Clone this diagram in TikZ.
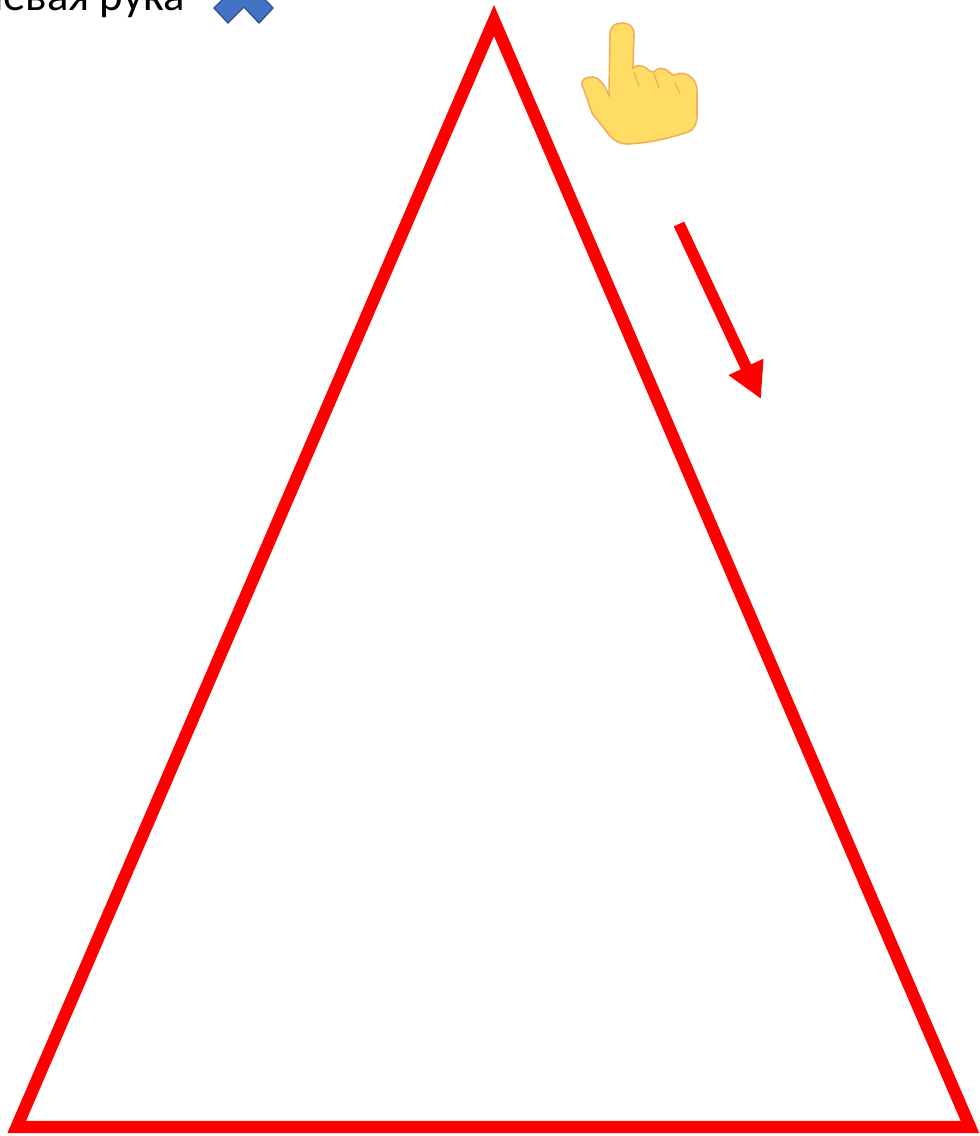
\documentclass[tikz,border=0pt]{standalone}
\usepackage{fontspec}
\setmainfont{Carlito}
\definecolor{trired}{RGB}{255, 0, 0}
\definecolor{chevblue}{RGB}{68, 114, 196}
\definecolor{chevedge}{RGB}{47, 82, 143}
\definecolor{handyellow}{RGB}{255, 220, 100}
\definecolor{handedge}{RGB}{240, 175, 95}
\usetikzlibrary{arrows.meta}

\begin{document}
\begin{tikzpicture}[x=0.75pt, y=-0.75pt,
    triline/.style={draw=trired, line width=9.2pt, miter limit=10, line join=miter},
    movearrow/.style={draw=trired, line width=8.6pt, -{Triangle[length=26.6pt, width=27pt]}},
    label/.style={inner sep=0pt, font=\fontsize{33.5}{33.5}\selectfont}]
  \useasboundingbox (0, 0) rectangle (979, 1136);

  % Left hand label and its mark
  \node[label, anchor=base east] (handlabel) at (185, 10) {Левая рука};
  \draw[fill=chevblue, draw=chevedge, line width=1pt] (214, 8) -- (244, -22) -- (273, 8) -- (259, 23) -- (244, 7) -- (228, 23) -- cycle;

  % Triangle
  \draw[triline] (494, 20.5) -- (970, 1127) -- (16.7, 1127) -- cycle;

  % Pointing hand
  \draw[fill=handyellow, draw=handedge, line width=1.2pt]
    (610, 35) .. controls (610, 26) and (615, 23) .. (622, 23)
    .. controls (629, 23) and (634, 26) .. (634, 35) -- (633, 68)
    .. controls (636, 65) and (642, 65) .. (646, 68) .. controls (650, 72) and (652, 72) .. (654, 72)
    .. controls (656, 68) and (664, 67) .. (668, 71) .. controls (671, 74) and (673, 75) .. (675, 75)
    .. controls (680, 72) and (688, 73) .. (692, 78) .. controls (696, 82) and (697, 86) .. (697, 92)
    -- (697, 115) .. controls (697, 124) and (694, 130) .. (688, 132)
    .. controls (670, 138) and (650, 143) .. (627, 144) .. controls (620, 144) and (615, 141) .. (610, 136)
    -- (592, 113) .. controls (589, 105) and (586, 95) .. (582, 85)
    .. controls (581, 79) and (586, 77) .. (593, 77) .. controls (600, 78) and (605, 86) .. (609, 95) -- cycle;
  \draw[handedge, line width=1pt] (634, 72) -- (639, 86);
  \draw[handedge, line width=1pt] (654, 74) -- (659, 88);
  \draw[handedge, line width=1pt] (675, 83) -- (680, 93);

  % Direction of movement
  \coordinate (arrowstart) at (679, 224);
  \coordinate (arrowend) at (761, 399);
  \draw[movearrow] (arrowstart) -- (arrowend);
\end{tikzpicture}
\end{document}
